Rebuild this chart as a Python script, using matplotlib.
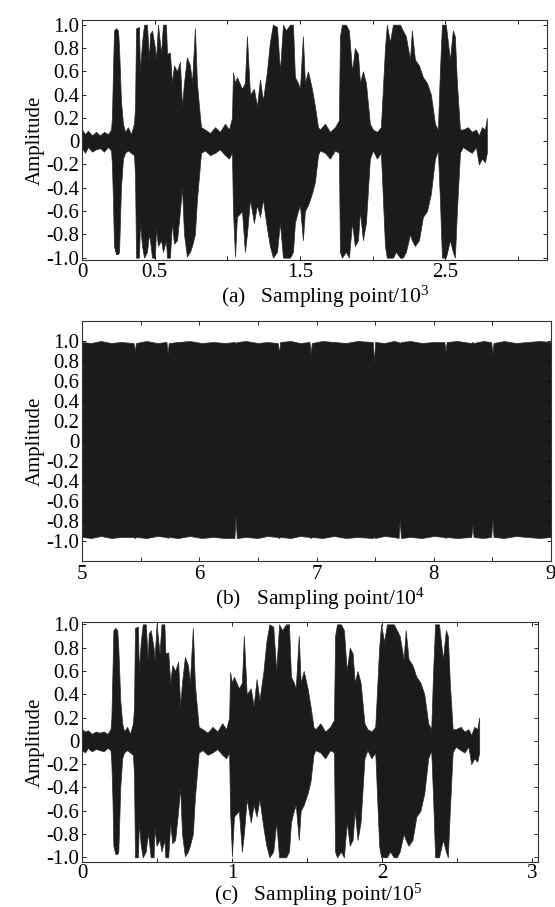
import matplotlib
matplotlib.use('Agg')
import matplotlib.pyplot as plt
from matplotlib.ticker import FixedLocator, FixedFormatter

plt.rcParams['font.family'] = ['Liberation Serif', 'DejaVu Serif']
plt.rcParams['mathtext.fontset'] = 'custom'
plt.rcParams['mathtext.rm'] = 'Liberation Serif'

# ---------------- Panel (a): original speech signal (x in units of 10^3) -------------
t_a = [0.000, 0.021, 0.041, 0.069, 0.096, 0.124, 0.151, 0.179, 0.200,
       0.206, 0.213, 0.220, 0.234, 0.248, 0.255, 0.261, 0.268, 0.282,
       0.296, 0.316, 0.337, 0.358,
       0.365, 0.372, 0.392, 0.399, 0.413, 0.427, 0.447, 0.461, 0.468, 0.482,
       0.502, 0.509, 0.523, 0.544, 0.557, 0.578, 0.585, 0.605, 0.619, 0.633,
       0.654, 0.674, 0.688, 0.702, 0.722, 0.743, 0.757, 0.777, 0.791, 0.805,
       0.819, 0.846, 0.881, 0.915, 0.949, 0.984, 1.011, 1.032,
       1.039, 1.053, 1.066, 1.101, 1.121, 1.135, 1.156, 1.183, 1.204, 1.225,
       1.245, 1.273, 1.293, 1.314, 1.342, 1.362, 1.383, 1.404, 1.431, 1.452,
       1.465, 1.486, 1.500, 1.520, 1.534, 1.555, 1.582, 1.603, 1.624,
       1.637, 1.672, 1.706, 1.741, 1.768,
       1.775, 1.789, 1.816, 1.837, 1.858, 1.878, 1.899, 1.913, 1.933, 1.954, 1.981,
       2.002, 2.030, 2.057,
       2.085, 2.098, 2.119, 2.140, 2.160, 2.188, 2.208, 2.229, 2.257, 2.270,
       2.291, 2.319, 2.346, 2.374, 2.401, 2.429,
       2.449,
       2.463, 2.477, 2.504, 2.532, 2.552, 2.566, 2.580, 2.601,
       2.621, 2.656, 2.683, 2.711, 2.731, 2.752, 2.773, 2.786]

up_a = [0.10, 0.06, 0.09, 0.05, 0.08, 0.05, 0.08, 0.06, 0.10,
        0.20, 0.60, 0.95, 0.97, 0.95, 0.80, 0.60, 0.35, 0.15,
        0.08, 0.12, 0.06, 0.15,
        0.30, 0.97, 0.98, 0.60, 0.85, 1.00, 1.00, 0.70, 0.92, 0.95,
        0.80, 0.70, 1.00, 0.75, 1.00, 1.00, 0.75, 0.76, 0.50, 0.65,
        0.60, 0.68, 0.30, 0.50, 0.72, 0.65, 0.50, 0.97, 0.50, 0.30,
        0.12, 0.10, 0.07, 0.12, 0.08, 0.15, 0.10, 0.20,
        0.59, 0.50, 0.55, 0.45, 0.50, 0.90, 0.40, 0.45, 0.30, 0.53,
        0.35, 0.60, 0.85, 1.00, 0.98, 0.60, 1.00, 0.95, 1.00, 1.00,
        0.55, 0.50, 0.45, 0.90, 0.50, 0.60, 0.45, 0.30, 0.12,
        0.10, 0.15, 0.08, 0.12, 0.18,
        0.90, 1.00, 1.00, 0.95, 0.60, 0.80, 0.75, 0.50, 0.60, 0.50, 0.15,
        0.10, 0.08, 0.12,
        0.80, 1.00, 0.85, 1.00, 1.00, 1.00, 0.95, 0.90, 0.70, 0.95,
        0.70, 0.65, 0.55, 0.50, 0.40, 0.15,
        0.10,
        0.60, 1.00, 1.00, 0.70, 0.95, 0.90, 0.50, 0.10,
        0.10, 0.12, 0.08, 0.10, 0.05, 0.12, 0.10, 0.20]

lo_a = [-0.06, -0.10, -0.05, -0.09, -0.07, -0.06, -0.09, -0.05, -0.08,
        -0.20, -0.50, -0.90, -0.97, -0.97, -0.95, -0.70, -0.40, -0.15,
        -0.10, -0.08, -0.10, -0.12,
        -0.30, -1.00, -1.00, -0.70, -0.90, -1.00, -0.95, -0.80, -0.85, -1.00,
        -1.00, -0.75, -0.90, -0.85, -0.95, -0.85, -1.00, -1.00, -0.70, -0.88,
        -0.85, -0.60, -0.40, -0.80, -0.99, -0.95, -0.90, -0.80, -0.50, -0.30,
        -0.10, -0.08, -0.12, -0.10, -0.07, -0.12, -0.15, -0.10,
        -0.60, -0.99, -0.65, -0.60, -0.95, -0.80, -0.50, -0.70, -0.55, -0.65,
        -0.50, -0.75, -0.90, -1.00, -0.95, -0.70, -1.00, -1.00, -1.00, -0.95,
        -0.70, -0.60, -0.55, -0.85, -0.60, -0.55, -0.45, -0.35, -0.12,
        -0.08, -0.10, -0.15, -0.08, -0.10,
        -0.95, -1.00, -0.95, -1.00, -0.70, -0.90, -0.85, -0.60, -0.85, -0.70, -0.15,
        -0.08, -0.15, -0.10,
        -0.90, -1.00, -1.00, -1.00, -0.95, -1.00, -1.00, -0.95, -0.80, -0.85,
        -0.90, -0.85, -0.65, -0.60, -0.45, -0.15,
        -0.08,
        -0.50, -1.00, -1.00, -0.85, -0.95, -1.00, -0.60, -0.10,
        -0.05, -0.08, -0.10, -0.05, -0.20, -0.15, -0.18, -0.10]

xticks_a = [0, 0.5, 1.0, 1.5, 2.0, 2.5, 3.0]
xlabels_a = ['0', '0.5', '', '1.5', '', '2.5', '']

# ---------------- Panel (b): encrypted signal (x in units of 10^4) -----------------
t_b = [5.00, 5.08, 5.16, 5.25, 5.33, 5.44, 5.45, 5.46, 5.55, 5.64,
       5.72, 5.73, 5.74, 5.82, 5.92, 6.02, 6.12, 6.22, 6.30, 6.31,
       6.32, 6.40, 6.50, 6.58, 6.67, 6.68, 6.69, 6.78, 6.86, 6.94,
       6.95, 6.96, 7.05, 7.15, 7.25, 7.35, 7.48, 7.49, 7.50, 7.58,
       7.66, 7.70, 7.71, 7.72, 7.80, 7.90, 8.00, 8.09, 8.10, 8.11,
       8.20, 8.32, 8.33, 8.34, 8.42, 8.49, 8.50, 8.51, 8.60, 8.70,
       8.80, 8.90, 9.00]
up_b = [0.99, 0.98, 1.00, 0.98, 0.99, 0.98, 0.90, 0.98, 1.00, 0.98,
        0.99, 0.88, 0.98, 0.99, 1.00, 0.98, 0.99, 0.98, 0.99, 0.98,
        0.99, 1.00, 0.98, 0.99, 0.98, 0.88, 0.99, 1.00, 0.98, 0.99,
        0.88, 0.98, 1.00, 0.99, 0.98, 1.00, 0.99, 0.79, 0.99, 0.98,
        1.00, 0.99, 0.98, 0.99, 1.00, 0.98, 0.99, 0.99, 0.90, 0.99,
        1.00, 0.98, 0.99, 0.98, 1.00, 0.99, 0.88, 0.98, 1.00, 0.98,
        0.99, 1.00, 0.99]
lo_b = [-0.96, -0.97, -0.95, -0.97, -0.96, -0.96, -0.97, -0.96, -0.97, -0.95,
        -0.96, -0.97, -0.96, -0.97, -0.95, -0.97, -0.96, -0.97, -0.97, -0.76,
        -0.97, -0.96, -0.97, -0.95, -0.96, -0.97, -0.96, -0.97, -0.95, -0.96,
        -0.97, -0.96, -0.97, -0.95, -0.97, -0.96, -0.97, -0.96, -0.97, -0.95,
        -0.96, -0.97, -0.79, -0.97, -0.96, -0.97, -0.95, -0.96, -0.97, -0.96,
        -0.97, -0.96, -0.85, -0.96, -0.97, -0.96, -0.79, -0.96, -0.97, -0.95,
        -0.96, -0.97, -0.96]
xticks_b = [5, 5.5, 6, 6.5, 7, 7.5, 8, 8.5, 9]
xlabels_b = ['5', '', '6', '', '7', '', '8', '', '9']

# ---------------- Panel (c): decrypted signal (x in units of 10^5) -----------------
t_c = [0.000, 0.020, 0.039, 0.065, 0.092, 0.118, 0.144, 0.170, 0.190,
       0.196, 0.203, 0.209, 0.222, 0.235, 0.242, 0.248, 0.255, 0.268,
       0.281, 0.301, 0.320, 0.340,
       0.347, 0.353, 0.373, 0.379, 0.392, 0.405, 0.425, 0.438, 0.445, 0.458,
       0.477, 0.484, 0.497, 0.517, 0.530, 0.549, 0.556, 0.575, 0.588, 0.602,
       0.621, 0.641, 0.654, 0.667, 0.686, 0.706, 0.719, 0.739, 0.752, 0.765,
       0.778, 0.804, 0.837, 0.870, 0.902, 0.935, 0.961, 0.981,
       0.987, 1.000, 1.013, 1.046, 1.066, 1.079, 1.098, 1.125, 1.144, 1.164,
       1.183, 1.210, 1.229, 1.249, 1.275, 1.295, 1.314, 1.334, 1.360, 1.380,
       1.393, 1.412, 1.425, 1.445, 1.458, 1.478, 1.504, 1.523, 1.543,
       1.556, 1.589, 1.621, 1.654, 1.680,
       1.687, 1.700, 1.726, 1.746, 1.765, 1.785, 1.804, 1.818, 1.837, 1.857, 1.883,
       1.903, 1.929, 1.955,
       1.981, 1.994, 2.014, 2.033, 2.053, 2.079, 2.099, 2.118, 2.144, 2.158,
       2.177, 2.203, 2.229, 2.256, 2.282, 2.308,
       2.328,
       2.341, 2.354, 2.380, 2.406, 2.426, 2.439, 2.452, 2.471,
       2.491, 2.524, 2.550, 2.576, 2.595, 2.615, 2.635, 2.648]

up_c = [0.10, 0.08, 0.09, 0.06, 0.08, 0.07, 0.08, 0.06, 0.10,
        0.20, 0.60, 0.95, 0.97, 0.95, 0.80, 0.60, 0.35, 0.15,
        0.08, 0.12, 0.06, 0.15,
        0.30, 0.97, 0.98, 0.60, 0.85, 1.00, 1.00, 0.70, 0.92, 0.95,
        0.80, 0.70, 1.00, 0.75, 1.00, 1.00, 0.75, 0.76, 0.50, 0.65,
        0.60, 0.68, 0.30, 0.50, 0.72, 0.65, 0.50, 0.97, 0.50, 0.30,
        0.12, 0.10, 0.07, 0.12, 0.08, 0.15, 0.10, 0.20,
        0.59, 0.50, 0.55, 0.45, 0.50, 0.90, 0.40, 0.45, 0.30, 0.53,
        0.35, 0.60, 0.85, 1.00, 0.98, 0.60, 1.00, 0.95, 1.00, 1.00,
        0.55, 0.50, 0.45, 0.90, 0.50, 0.60, 0.45, 0.30, 0.12,
        0.10, 0.15, 0.08, 0.12, 0.18,
        0.90, 1.00, 1.00, 0.95, 0.60, 0.80, 0.75, 0.50, 0.60, 0.50, 0.15,
        0.10, 0.08, 0.12,
        0.80, 1.00, 0.85, 1.00, 1.00, 1.00, 0.95, 0.90, 0.70, 0.95,
        0.70, 0.65, 0.55, 0.50, 0.40, 0.15,
        0.10,
        0.60, 1.00, 1.00, 0.70, 0.95, 0.90, 0.50, 0.10,
        0.10, 0.12, 0.08, 0.10, 0.05, 0.12, 0.10, 0.20]

lo_c = [-0.08, -0.10, -0.06, -0.09, -0.07, -0.08, -0.09, -0.06, -0.08,
        -0.20, -0.50, -0.90, -0.97, -0.97, -0.95, -0.70, -0.40, -0.15,
        -0.10, -0.08, -0.10, -0.12,
        -0.30, -1.00, -1.00, -0.70, -0.90, -1.00, -0.95, -0.80, -0.85, -1.00,
        -1.00, -0.75, -0.90, -0.85, -0.95, -0.85, -1.00, -1.00, -0.70, -0.88,
        -0.85, -0.60, -0.40, -0.80, -0.99, -0.95, -0.90, -0.80, -0.50, -0.30,
        -0.10, -0.08, -0.12, -0.10, -0.07, -0.12, -0.15, -0.10,
        -0.60, -0.99, -0.65, -0.60, -0.95, -0.80, -0.50, -0.70, -0.55, -0.65,
        -0.50, -0.75, -0.90, -1.00, -0.95, -0.70, -1.00, -1.00, -1.00, -0.95,
        -0.70, -0.60, -0.55, -0.85, -0.60, -0.55, -0.45, -0.35, -0.12,
        -0.08, -0.10, -0.15, -0.08, -0.10,
        -0.95, -1.00, -0.95, -1.00, -0.70, -0.90, -0.85, -0.60, -0.85, -0.70, -0.15,
        -0.08, -0.15, -0.10,
        -0.90, -1.00, -1.00, -1.00, -0.95, -1.00, -1.00, -0.95, -0.80, -0.85,
        -0.90, -0.85, -0.65, -0.60, -0.45, -0.15,
        -0.08,
        -0.50, -1.00, -1.00, -0.85, -0.95, -1.00, -0.60, -0.10,
        -0.05, -0.08, -0.10, -0.05, -0.20, -0.15, -0.18, -0.10]

xticks_c = [0, 0.5, 1, 1.5, 2, 2.5, 3]
xlabels_c = ['0', '', '1', '', '2', '', '3']

yticks = [-1.0, -0.8, -0.6, -0.4, -0.2, 0.0, 0.2, 0.4, 0.6, 0.8, 1.0]
ylabels = ['-1.0', '-0.8', '-0.6', '-0.4', '-0.2', '0', '0.2', '0.4', '0.6', '0.8', '1.0']

xlabel_texts = ['(a)   Sampling point/$\\mathregular{10^{3}}$',
                '(b)   Sampling point/$\\mathregular{10^{4}}$',
                '(c)   Sampling point/$\\mathregular{10^{5}}$']

# ---------------- Figure ----------------
W, H = 555, 907
fig = plt.figure(figsize=(W / 100, H / 100), dpi=100)


def add_axes(left, right, top, bottom):
    return fig.add_axes([left / W, 1 - bottom / H, (right - left) / W, (bottom - top) / H])


ax_a = add_axes(82, 547, 20, 260)
ax_b = add_axes(82, 551, 321, 561)
ax_c = add_axes(82, 538, 622, 862)

FILL = '#1b1b1b'


def style(ax, xticks, xlabels, xlim, ylim, xpad=2):
    ax.set_xlim(*xlim)
    ax.set_ylim(*ylim)
    ax.xaxis.set_major_locator(FixedLocator(xticks))
    ax.xaxis.set_major_formatter(FixedFormatter(xlabels))
    ax.yaxis.set_major_locator(FixedLocator(yticks))
    ax.yaxis.set_major_formatter(FixedFormatter(ylabels))
    ax.tick_params(direction='in', top=True, right=True, length=3, width=0.6,
                   labelsize=15, colors='black')
    ax.tick_params(axis='y', pad=2)
    ax.tick_params(axis='x', pad=xpad)
    for s in ax.spines.values():
        s.set_linewidth(0.8)
        s.set_color('#333333')
    ax.set_ylabel('Amplitude', fontsize=15, labelpad=1)


ax_a.fill_between(t_a, lo_a, up_a, facecolor=FILL, edgecolor='#2a2a2a', linewidth=0.5)
style(ax_a, xticks_a, xlabels_a, (0, 3.2), (-1.02, 1.04))

ax_b.fill_between(t_b, lo_b, up_b, facecolor=FILL, edgecolor='#2a2a2a', linewidth=0.5)
style(ax_b, xticks_b, xlabels_b, (5, 9), (-1.2, 1.2), xpad=3)

ax_c.fill_between(t_c, lo_c, up_c, facecolor=FILL, edgecolor='#2a2a2a', linewidth=0.5)
style(ax_c, xticks_c, xlabels_c, (0, 3.04), (-1.04, 1.02), xpad=1.5)

label_pos = [(325, 303), (320, 605), (318, 901)]
for (xc, yb), txt in zip(label_pos, xlabel_texts):
    fig.text(xc / W, 1 - yb / H, txt, ha='center', va='baseline', fontsize=15.5)

fig.savefig('out.png', dpi=100, facecolor='white')
